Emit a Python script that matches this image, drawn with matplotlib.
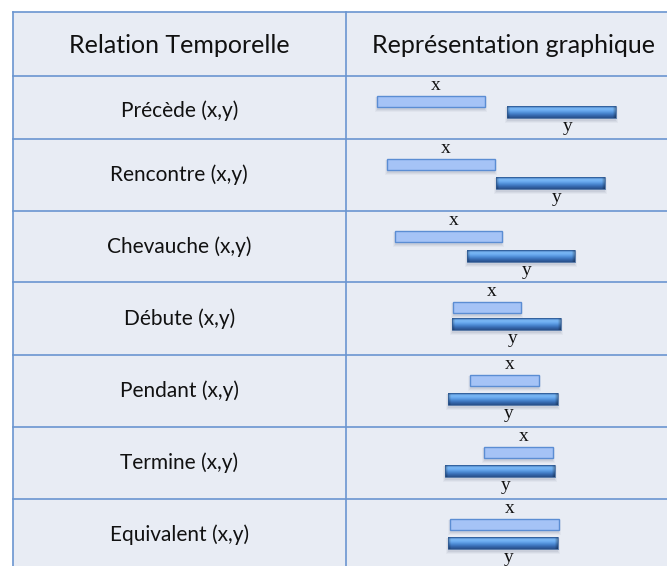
import numpy as np
import matplotlib.pyplot as plt
from matplotlib.patches import Rectangle
from matplotlib.colors import LinearSegmentedColormap

# relations and the two intervals per row (timeline units = pixels of the picture)
RELATIONS = ["Précède (x,y)", "Rencontre (x,y)", "Chevauche (x,y)", "Débute (x,y)",
             "Pendant (x,y)", "Termine (x,y)", "Equivalent (x,y)"]
X_START = [377, 387, 395, 453, 470, 484, 450]
X_END = [485, 495, 502, 521, 539, 553, 559]
Y_START = [507, 496, 467, 452, 448, 445, 448]
Y_END = [616, 605, 575, 561, 558, 555, 558]

HEADERS = ["Relation Temporelle", "Représentation graphique"]

# layout
W, H = 667, 566
ROW_LINES = [11.5, 76, 139, 211, 282, 355, 427, 499, 571]
LEFT, MID, RIGHT = 12.5, 346, 678
Y_BAR_OFFSET = [30, 38, 39, 36, 38, 38, 38]

BG = "#e8ecf4"
LINE = "#6a95d0"
X_FILL = "#a5c3f6"
X_EDGE = "#5b8dd3"

bar_cmap = LinearSegmentedColormap.from_list(
    "ybar", ["#3a6db0", "#7cbaf6", "#68a8ee", "#4a88d2", "#3568ae", "#28508a"])


def shadow(ax, x0, x1, y0, y1):
    for k, a in [(3, 0.05), (2, 0.07), (1, 0.09)]:
        ax.add_patch(Rectangle((x0 - k + 1, y0 + 1), x1 - x0 + 2 * k - 2, y1 - y0 + k + 1,
                               facecolor="#50607a", edgecolor="none", alpha=a, zorder=2))


def y_bar(ax, x0, x1, y0, y1):
    shadow(ax, x0, x1, y0, y1)
    ny, nx = 40, 200
    v = np.linspace(0, 1, ny)[:, None] * np.ones((1, nx))
    img = bar_cmap(v)
    # bevelled ends darker
    t = np.linspace(0, 1, nx)
    dark = np.clip(1 - np.minimum(t, 1 - t) * (x1 - x0) / 3.0, 0, 1)[None, :]
    img[..., :3] = img[..., :3] * (1 - 0.3 * dark[..., None])
    ax.imshow(img, extent=(x0, x1, y1, y0), aspect="auto", zorder=3, interpolation="bilinear")
    ax.add_patch(Rectangle((x0, y0), x1 - x0, y1 - y0, facecolor="none",
                           edgecolor="#2e5a94", lw=0.5, zorder=4))


def main():
    fig = plt.figure(figsize=(W / 100, H / 100), dpi=100)
    ax = fig.add_axes([0, 0, 1, 1])
    ax.set_xlim(0, W)
    ax.set_ylim(H, 0)
    ax.axis("off")

    ax.add_patch(Rectangle((LEFT, ROW_LINES[0]), RIGHT - LEFT, ROW_LINES[-1] - ROW_LINES[0],
                           facecolor=BG, edgecolor="none", zorder=0))
    for yl in ROW_LINES[:-1]:
        ax.plot([LEFT, W], [yl, yl], color=LINE, lw=1.2, zorder=1)
    for xl in [LEFT, MID]:
        ax.plot([xl, xl], [ROW_LINES[0], H], color=LINE, lw=1.2, zorder=1)

    head_mid = (ROW_LINES[0] + ROW_LINES[1]) / 2 + 2
    ax.text((LEFT + MID) / 2, head_mid, HEADERS[0], ha="center", va="center",
            fontsize=18, family="Lato", color="#111111")
    ax.text((MID + RIGHT) / 2 + 1, head_mid, HEADERS[1], ha="center", va="center",
            fontsize=18, family="Lato", color="#111111")

    for i, rel in enumerate(RELATIONS):
        top, bot = ROW_LINES[i + 1], ROW_LINES[i + 2]
        ax.text((LEFT + MID) / 2, (top + bot) / 2 + (0 if i else 3), rel, ha="center", va="center",
                fontsize=15, family="Lato", color="#111111")

        xa, xb = X_START[i], X_END[i]
        ya, yb = Y_START[i], Y_END[i]
        # interval x
        shadow(ax, xa, xb, top + 20, top + 31)
        ax.add_patch(Rectangle((xa, top + 20), xb - xa, 11, facecolor=X_FILL,
                               edgecolor=X_EDGE, lw=1.0, zorder=3))
        ax.text((xa + xb) / 2 + 5, top + 18, "x", ha="center", va="bottom",
                fontsize=14, family="Liberation Serif", color="#111111")
        # interval y
        off = Y_BAR_OFFSET[i]
        y_bar(ax, ya, yb, top + off, top + off + 12)
        ax.text((ya + yb) / 2 + 6, top + off + 12, "y", ha="center", va="top",
                fontsize=14, family="Liberation Serif", color="#111111")

    fig.savefig("out.png", dpi=100)


if __name__ == "__main__":
    main()
